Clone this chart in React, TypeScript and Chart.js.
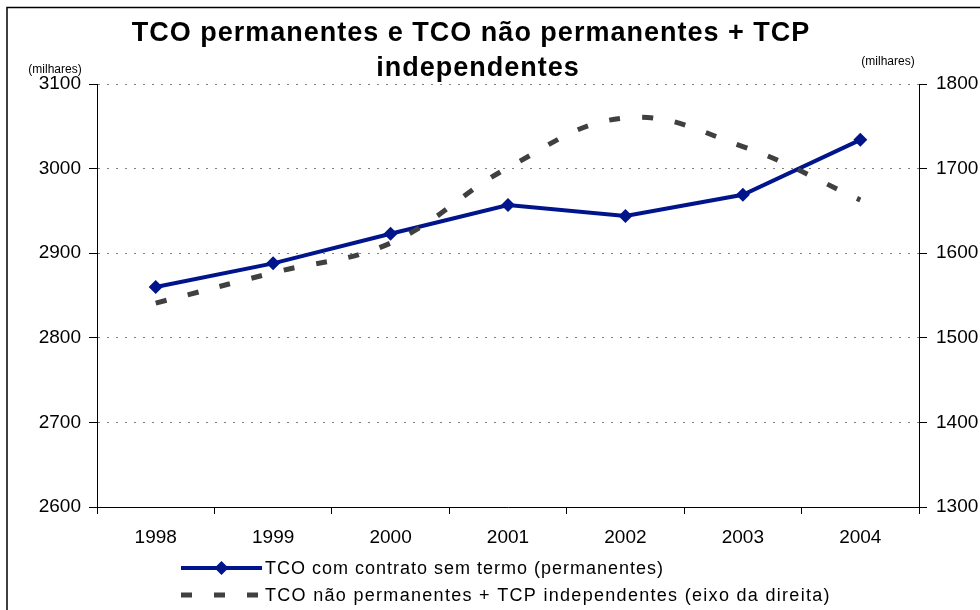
import React, { useEffect, useRef } from "react";
import { Chart, registerables } from "chart.js";

Chart.register(...registerables);

// ---- data ----
const years = ["1998", "1999", "2000", "2001", "2002", "2003", "2004"];
const permanentes = [2860, 2888, 2923, 2957, 2944, 2969, 3034];
const naoPermanentes = [1541, 1577, 1612, 1701, 1760, 1726, 1663];
const seriesLabels = [
  "TCO com contrato sem termo (permanentes)",
  "TCO não permanentes + TCP independentes (eixo da direita)",
];
const titleLines = ["TCO permanentes e TCO não permanentes + TCP", "independentes"];
const unitLabel = "(milhares)";
const leftRange = [2600, 3100];
const rightRange = [1300, 1800];
const tickStep = 100;

const FONT = '"Liberation Sans", Arial, sans-serif';
const BLUE = "#00148C";
const GRAY = "#404040";

const plainNumber = (v: any) => String(v);

const decorPlugin = {
  id: "decor",
  beforeDraw(chart: any) {
    const ctx = chart.ctx;
    ctx.save();
    ctx.fillStyle = "#fff";
    ctx.fillRect(0, 0, chart.width, chart.height);
    ctx.strokeStyle = "#000";
    ctx.lineWidth = 1.5;
    ctx.beginPath();
    ctx.moveTo(7, chart.height + 2);
    ctx.lineTo(7, 7.5);
    ctx.lineTo(chart.width + 2, 7.5);
    ctx.stroke();
    ctx.restore();
  },
  afterDraw(chart: any) {
    const ctx = chart.ctx;
    const { left, right, top, bottom } = chart.chartArea;
    ctx.save();
    // title
    ctx.fillStyle = "#000";
    ctx.textAlign = "center";
    ctx.textBaseline = "alphabetic";
    ctx.font = `bold 27px ${FONT}`;
    (ctx as any).letterSpacing = "1px";
    ctx.fillText(titleLines[0], 471, 41);
    ctx.fillText(titleLines[1], 478, 76);
    // unit labels
    (ctx as any).letterSpacing = "0px";
    ctx.font = `12px ${FONT}`;
    ctx.textBaseline = "middle";
    ctx.fillText(unitLabel, left - 42, top - 14);
    ctx.fillText(unitLabel, right - 31, top - 22);
    // legend
    const ds = chart.data.datasets;
    const x0 = 181;
    const x1 = 262;
    const y0 = bottom + 61;
    ds.forEach((d: any, i: number) => {
      const y = y0 + i * 27;
      ctx.save();
      ctx.strokeStyle = d.borderColor;
      ctx.lineWidth = d.borderWidth;
      ctx.setLineDash(d.borderDash || []);
      ctx.lineCap = "butt";
      ctx.beginPath();
      ctx.moveTo(x0, y);
      ctx.lineTo(x1, y);
      ctx.stroke();
      ctx.setLineDash([]);
      if (d.pointRadius > 0) {
        const r = d.pointRadius;
        const cx = (x0 + x1) / 2;
        ctx.fillStyle = d.pointBackgroundColor;
        ctx.beginPath();
        ctx.moveTo(cx, y - r);
        ctx.lineTo(cx + r, y);
        ctx.lineTo(cx, y + r);
        ctx.lineTo(cx - r, y);
        ctx.closePath();
        ctx.fill();
      }
      ctx.restore();
      ctx.fillStyle = "#000";
      ctx.textAlign = "left";
      ctx.textBaseline = "middle";
      ctx.font = `18px ${FONT}`;
      (ctx as any).letterSpacing = i === 0 ? "1px" : "1.3px";
      ctx.fillText(d.label, x1 + 3, y + 1);
    });
    ctx.restore();
  },
};

export default function App() {
  const ref = useRef<HTMLCanvasElement | null>(null);

  useEffect(() => {
    if (!ref.current) return;
    const chart = new Chart(ref.current, {
      type: "line",
      data: {
        labels: years,
        datasets: [
          {
            label: seriesLabels[0],
            data: permanentes,
            yAxisID: "y",
            borderColor: BLUE,
            backgroundColor: BLUE,
            pointBackgroundColor: BLUE,
            pointBorderColor: BLUE,
            borderWidth: 4,
            pointStyle: "rectRot",
            pointRadius: 7,
            pointBorderWidth: 0,
            tension: 0,
            order: 1,
          },
          {
            label: seriesLabels[1],
            data: naoPermanentes,
            yAxisID: "y1",
            borderColor: GRAY,
            backgroundColor: GRAY,
            borderWidth: 5,
            borderDash: [11, 22],
            borderCapStyle: "butt",
            pointRadius: 0,
            tension: 0.4,
            order: 0,
          },
        ],
      },
      options: {
        responsive: false,
        animation: false,
        layout: { padding: { left: 0, right: 0, top: 84, bottom: 0 } },
        plugins: {
          legend: { display: false },
          title: { display: false },
          tooltip: { enabled: false },
        },
        scales: {
          x: {
            offset: true,
            grid: {
              display: true,
              offset: true,
              drawOnChartArea: false,
              drawTicks: true,
              tickLength: 7,
              tickColor: "#000",
              color: "#000",
            },
            border: { display: true, color: "#000", width: 1 },
            ticks: {
              color: "#000",
              font: { family: FONT, size: 19 },
              padding: 12,
              maxRotation: 0,
            },
            afterFit(scale: any) {
              scale.height = 103;
            },
          },
          y: {
            position: "left",
            min: leftRange[0],
            max: leftRange[1],
            ticks: {
              stepSize: tickStep,
              color: "#000",
              font: { family: FONT, size: 19 },
              padding: 8,
              callback: plainNumber,
            },
            grid: {
              color: "#808080",
              lineWidth: 1,
              tickColor: "#000",
              tickLength: 8,
            },
            border: { display: true, color: "#000", width: 1, dash: [2, 7] },
            afterFit(scale: any) {
              scale.width = 97;
            },
          },
          y1: {
            position: "right",
            min: rightRange[0],
            max: rightRange[1],
            ticks: {
              stepSize: tickStep,
              color: "#000",
              font: { family: FONT, size: 19 },
              padding: 9,
              callback: plainNumber,
            },
            grid: {
              drawOnChartArea: false,
              tickColor: "#000",
              tickLength: 8,
            },
            border: { display: true, color: "#000", width: 1 },
            afterFit(scale: any) {
              scale.width = 61;
            },
          },
        },
      },
      plugins: [decorPlugin],
    } as any);
    return () => chart.destroy();
  }, []);

  return (
    <div style={{ position: "fixed", left: 0, top: 0, width: 980, height: 610, background: "#fff" }}>
      <canvas ref={ref} width={980} height={610} style={{ display: "block" }} />
    </div>
  );
}
